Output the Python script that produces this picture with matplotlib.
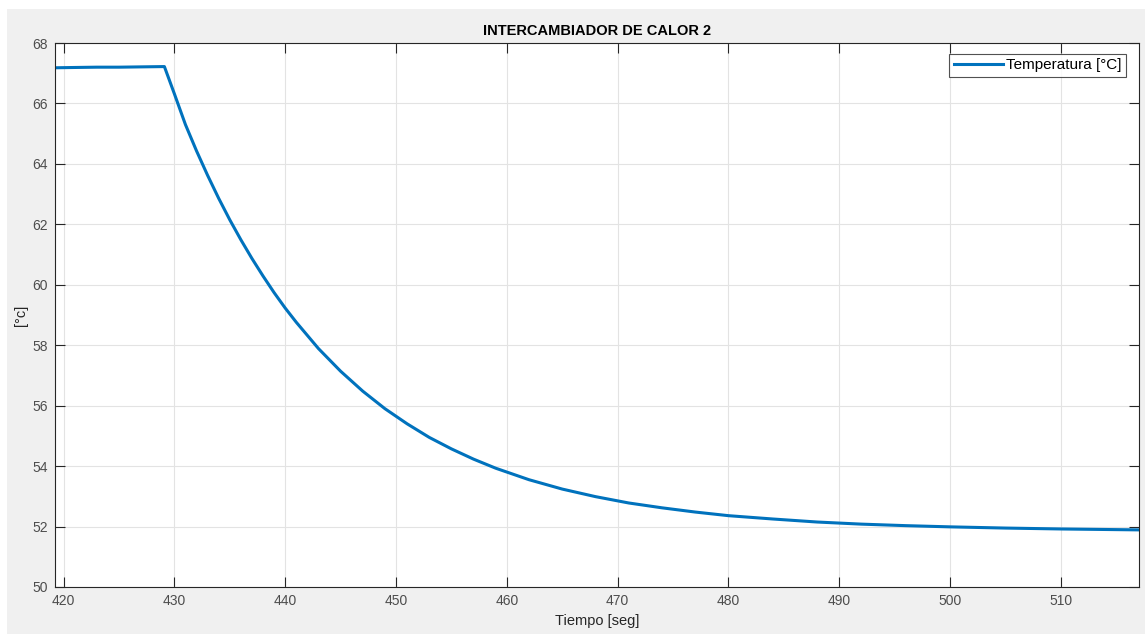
import numpy as np
import matplotlib.pyplot as plt
from matplotlib.patches import Rectangle

# tiempo [seg] y temperatura [°C]
tiempo = [419.2, 421, 423, 425, 427, 429.1, 430, 431, 432, 433, 434, 435, 436, 437,
          438, 439, 440, 441, 443, 445, 447, 449, 451, 453, 455, 457, 459, 462, 465,
          468, 471, 474, 477, 480, 484, 488, 492, 496, 500, 505, 510, 517]
temperatura = [67.18, 67.19, 67.20, 67.20, 67.21, 67.22, 66.32, 65.30, 64.43, 63.62,
               62.86, 62.15, 61.49, 60.87, 60.29, 59.74, 59.23, 58.76, 57.89, 57.14,
               56.48, 55.90, 55.40, 54.95, 54.57, 54.23, 53.93, 53.55, 53.24, 52.99,
               52.78, 52.62, 52.48, 52.36, 52.25, 52.15, 52.08, 52.03, 51.99, 51.95,
               51.92, 51.89]

xticks = [420, 430, 440, 450, 460, 470, 480, 490, 500, 510]
yticks = [50, 52, 54, 56, 58, 60, 62, 64, 66, 68]

plt.rcParams['font.family'] = ['Liberation Sans', 'DejaVu Sans']

fig = plt.figure(figsize=(11.45, 6.34), dpi=100, facecolor='white')
fig.patches.append(Rectangle((7 / 1145, 0), 1, 1 - 9 / 634, transform=fig.transFigure,
                             facecolor='#f0f0f0', edgecolor='none', zorder=-10))

ax = fig.add_axes([55 / 1145, 1 - 587 / 634, (1139 - 55) / 1145, (587 - 43) / 634])
ax.plot(tiempo, temperatura, color='#0072BD', lw=2.2, label='Temperatura [°C]')

ax.set_xlim(419.23, 517.04)
ax.set_ylim(50, 68)
ax.set_xticks(xticks)
ax.set_yticks(yticks)
ax.grid(True, color='#e3e3e3', lw=0.8)
ax.set_axisbelow(True)
ax.tick_params(direction='in', top=True, right=True, length=7, width=0.8,
               colors='#262626', labelcolor='#4d4d4d', labelsize=10, pad=5)
for s in ax.spines.values():
    s.set_color('#262626')
    s.set_linewidth(0.8)

ax.set_title('INTERCAMBIADOR DE CALOR 2', fontsize=10.5, fontweight='bold', color='black', pad=6)
ax.set_xlabel('Tiempo [seg]', fontsize=10.5, color='#262626', labelpad=4)
ax.set_ylabel('[°c]', fontsize=10.5, color='#262626', labelpad=3)

leg = ax.legend(loc='upper right', fontsize=11, frameon=True, fancybox=False,
                handlelength=3.2, borderpad=0.3, handletextpad=0.2, borderaxespad=0,
                bbox_to_anchor=(0.988, 0.98))
leg.get_frame().set_edgecolor('#262626')
leg.get_frame().set_linewidth(0.8)

fig.savefig('out.png', dpi=100, facecolor=fig.get_facecolor())
